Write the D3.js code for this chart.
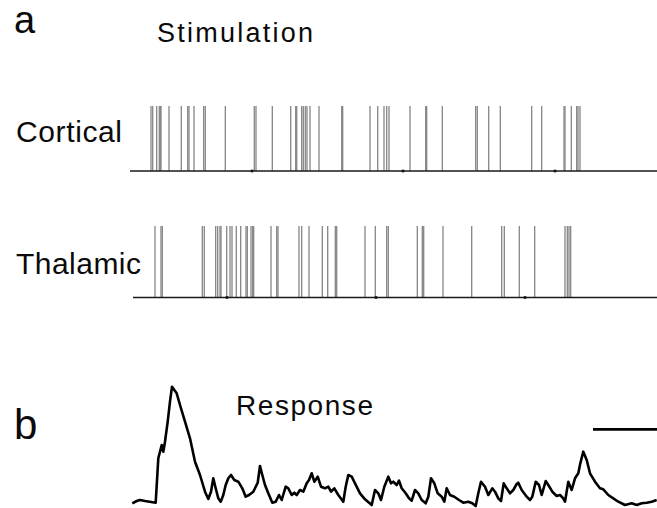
<!DOCTYPE html>
<meta charset="utf-8">
<script src="https://d3js.org/d3.v7.min.js"></script>
<style>
  body { margin: 0; background: #fff; }
  text { font-family: "Liberation Sans", Arial, sans-serif; fill: #0a0a0a; }
</style>
<body>
<div id="my_dataviz"></div>
<script>
// spike times (a.u., same time axis for both rows and the response)
var corticalSpikes = [21, 22.7, 26.7, 29.3, 30.3, 31, 39, 51.3, 57.7, 59, 64, 73.7, 75.3, 95.3,
  124.3, 126, 142.3, 160.7, 165.7, 166.7, 171.7, 173.3, 175.3, 177, 180, 189, 211.7, 212.7,
  240, 247.7, 254, 256.7, 259, 280, 295.7, 296.7, 312.3, 345.7, 347.3, 358.7, 370.3,
  401.7, 411.7, 434, 435, 441.3, 446.7, 448, 450];
var thalamicSpikes = [25, 31, 32.3, 72.3, 74.3, 85.7, 87.7, 90, 91, 96.7, 100, 102, 106.3,
  110.7, 116, 117.3, 121, 122.7, 123.7, 141, 146.7, 148, 169, 171.7, 179, 192.3, 197.7,
  205.3, 206.7, 235, 245.3, 256.7, 258.3, 287.3, 292.3, 293.7, 313, 341.7, 371.7, 374.3,
  389.3, 404.7, 435, 437.3, 439, 440.7];
var corticalMarks = [122, 273, 425];
var thalamicMarks = [97, 246, 395];

// response trace
var responseT = [2.3, 6.7, 10, 15, 25.7, 28.3, 31.7, 33.3, 35, 37.7, 40, 42, 44.3, 46.7, 50, 55, 60, 65, 70, 75,
  78.3, 81, 83.3, 85.7, 88.3, 90.7, 93.3, 95.7, 98.3, 101, 104.3, 108.3, 112.3, 115.7, 119, 123.3, 127.7, 130,
  132.3, 135, 138.3, 142.3, 145.7, 149, 151.7, 155.7, 158.3, 161.7, 164.3, 166.7, 170, 173.3, 176.7, 179,
  181.7, 184.3, 187.7, 191, 195, 198.3, 201, 204.3, 208.3, 213.3, 215.7, 218.3, 221.7, 225, 230, 235,
  241.7, 245, 248.3, 251, 254.3, 258.3, 261, 263.3, 266.7, 269, 271.7, 275.7, 279, 281.7, 285, 288.3,
  291.7, 295.7, 298.3, 301, 304.3, 307.7, 311.7, 314.3, 316.7, 320, 324.3, 329, 333.3, 338.3, 342.3,
  345.7, 348.3, 351, 355, 358.3, 362.3, 365, 368.3, 371, 373.7, 376.7, 380, 383.3, 386.7, 388.3, 391.7,
  396.7, 400, 402.3, 405.7, 409, 411.7, 415.7, 418.3, 422.3, 426.7, 430, 433.3, 435, 438.3, 441.7, 445,
  448.3, 450.3, 453.3, 456.7, 460, 465, 470, 473.3, 478.3, 483.3, 488.3, 495, 501.7, 506.7, 511.7,
  516.7, 521.7, 526.7];
var responseV = [2.7, 5, 6, 5, 3.3, 47.7, 61, 54.3, 64.3, 84.3, 104.3, 119.3, 116, 112.7, 101, 84.3, 67.7, 44.3, 31, 14.3,
  7, 14.3, 27.7, 17.7, 7.7, 4.3, 11, 21, 27.7, 31, 26, 24.3, 17.7, 9.3, 11, 14.3, 23.3, 40,
  31, 21, 12.7, 3.3, 4.3, 11, 6, 19.3, 17.7, 11, 13.3, 11, 16, 14.3, 22.7, 26,
  32.7, 24.3, 29.3, 19.3, 17.7, 19.3, 14.3, 17.7, 11, 4.3, 19.3, 31, 29.3, 22.7, 12.7, 6.7,
  1, 16, 12.7, 6, 19.3, 29.3, 22.7, 24.3, 21, 25.3, 17.7, 12.7, 7.7, 5.3, 16, 12.7,
  6, 2.7, 9.3, 27.7, 22.7, 12.7, 9.3, 4.3, 17.7, 11, 9.3, 6, 3.3, 4.3, 2.7,
  0, 12.7, 24.3, 19.3, 11, 17.7, 14.3, 7.7, 5, 22.7, 17.7, 12.7, 16, 22, 23.3, 16,
  9.3, 6, 9.3, 24.3, 21, 11, 25, 21, 14.3, 10, 11, 7.7, 4.3, 24.3, 16, 27.7,
  32.7, 42.7, 54.3, 46, 32.7, 24.3, 17.7, 16.7, 11, 7.7, 4.3, 1, 2.7, 1, 2.7,
  3.3, 4.3, 6];
var scaleBarT = [463, 527];
var scaleBarV = 76.7;

var width = 657, height = 508;

var svg = d3.select("#my_dataviz")
  .append("svg")
    .attr("width", width)
    .attr("height", height);

var x = d3.scaleLinear().domain([0, 527]).range([130, 657]);

// raster rows
function raster(spikes, marks, top, base, start) {
  var g = svg.append("g");
  g.selectAll("line.spike")
    .data(spikes)
    .enter()
    .append("line")
      .attr("class", "spike")
      .attr("x1", function(d) { return x(d); })
      .attr("x2", function(d) { return x(d); })
      .attr("y1", top)
      .attr("y2", base)
      .attr("stroke", "#858585")
      .attr("stroke-width", 1.3);
  g.append("line")
    .attr("x1", x(start)).attr("x2", x(527))
    .attr("y1", base).attr("y2", base)
    .attr("stroke", "#1a1a1a")
    .attr("stroke-width", 1.5);
  g.selectAll("rect.mark")
    .data(marks)
    .enter()
    .append("rect")
      .attr("class", "mark")
      .attr("x", function(d) { return x(d) - 1.3; })
      .attr("y", base - 1.3)
      .attr("width", 2.6)
      .attr("height", 2.6)
      .attr("fill", "#111");
}
raster(corticalSpikes, corticalMarks, 106, 171, 0);
raster(thalamicSpikes, thalamicMarks, 226, 297.5, 3);

// response trace
var y = d3.scaleLinear().domain([0, 120]).range([506, 386]);
var response = responseT.map(function(t, i) { return { t: t, v: responseV[i] }; });

svg.append("path")
  .datum(response)
  .attr("fill", "none")
  .attr("stroke", "#000")
  .attr("stroke-width", 2.6)
  .attr("stroke-linejoin", "round")
  .attr("d", d3.line()
    .x(function(d) { return x(d.t); })
    .y(function(d) { return y(d.v); }));

svg.append("line")
  .attr("x1", x(scaleBarT[0])).attr("x2", x(scaleBarT[1]))
  .attr("y1", y(scaleBarV)).attr("y2", y(scaleBarV))
  .attr("stroke", "#000")
  .attr("stroke-width", 2.8);

// labels
svg.append("text").attr("x", 14).attr("y", 33).style("font-size", "38px").text("a");
svg.append("text").attr("x", 14).attr("y", 439).style("font-size", "42px").text("b");
svg.append("text").attr("x", 157).attr("y", 42).style("font-size", "27px")
  .attr("textLength", 156).attr("lengthAdjust", "spacing").text("Stimulation");
svg.append("text").attr("x", 16).attr("y", 142).style("font-size", "30px")
  .attr("textLength", 106).attr("lengthAdjust", "spacing").text("Cortical");
svg.append("text").attr("x", 16).attr("y", 273.5).style("font-size", "30px")
  .attr("textLength", 125).attr("lengthAdjust", "spacing").text("Thalamic");
svg.append("text").attr("x", 236).attr("y", 415).style("font-size", "28px")
  .attr("textLength", 137).attr("lengthAdjust", "spacing").text("Response");
</script>
</body>
